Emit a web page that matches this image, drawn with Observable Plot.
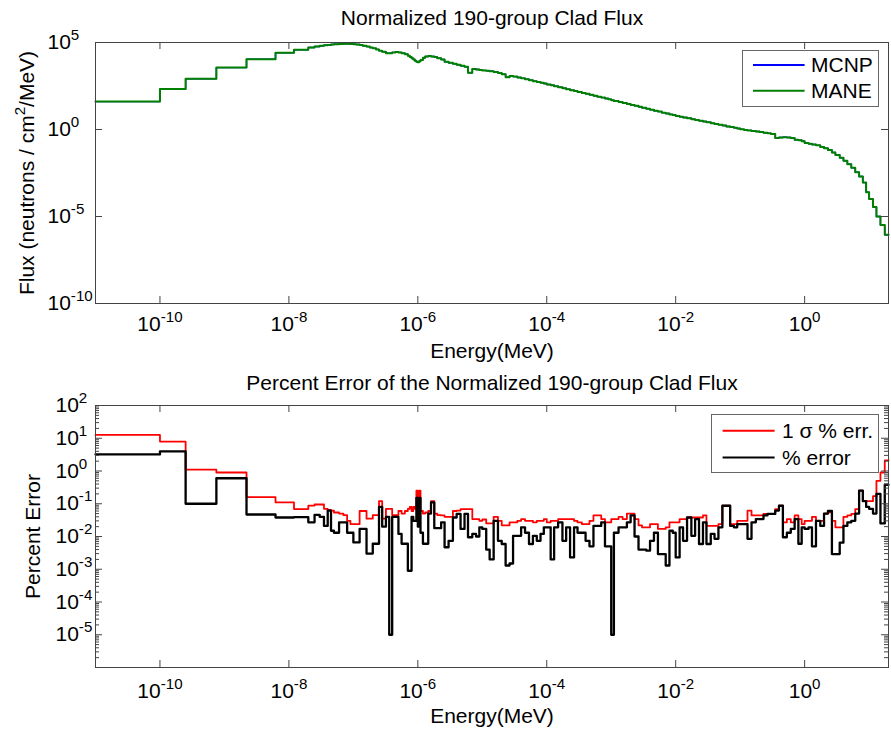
<!DOCTYPE html>
<html><head><meta charset="utf-8">
<script src="https://cdn.jsdelivr.net/npm/d3@7"></script>
<script src="https://cdn.jsdelivr.net/npm/@observablehq/plot@0.6"></script>
<style>
body{margin:0;background:#fff;}
#wrap{position:relative;width:891px;height:732px;font-family:"Liberation Sans",Arial,Helvetica,sans-serif;background:#fff;}
#wrap svg{display:block;}
.legend{position:absolute;box-sizing:border-box;border:1px solid #666;background:#fff;}
</style></head><body><div id="wrap"></div>
<script>
// Energy group boundaries (MeV): lower bound of each group, plus the final upper bound
const energyBounds = [
 1e-11, 1e-10, 2.5e-10, 7.5e-10, 2.2e-9, 6.2e-9,
 1.2e-8, 2e-8, 2.5e-8, 3e-8, 3.5e-8, 4e-8, 4.5e-8, 5e-8, 6e-8, 7e-8, 8e-8, 9e-8,
 1e-7, 1.1e-7, 1.25e-7, 1.4e-7, 1.6e-7, 1.8e-7, 2e-7, 2.25e-7, 2.5e-7, 2.8e-7, 3.2e-7, 3.6e-7, 4e-7, 4.5e-7, 5e-7, 5.6e-7, 6.3e-7, 7e-7, 7.5e-7, 8e-7, 8.5e-7, 9e-7, 9.5e-7,
 1e-6, 1.05e-6, 1.1e-6, 1.2e-6, 1.3e-6, 1.45e-6, 1.6e-6, 1.8e-6, 2e-6, 2.3e-6, 2.6e-6, 3e-6, 3.5e-6, 4e-6, 4.6e-6, 5.3e-6, 6e-6, 7e-6, 8e-6, 9e-6,
 1e-5, 1.15e-5, 1.3e-5, 1.5e-5, 1.75e-5, 2e-5, 2.3e-5, 2.65e-5, 3e-5, 3.5e-5, 4e-5, 4.6e-5, 5.3e-5, 6.1e-5, 7e-5, 8e-5, 9e-5,
 1e-4, 1.15e-4, 1.3e-4, 1.5e-4, 1.75e-4, 2e-4, 2.3e-4, 2.65e-4, 3e-4, 3.5e-4, 4e-4, 4.6e-4, 5.3e-4, 6.1e-4, 7e-4, 8e-4, 9e-4,
 1e-3, 1.1e-3, 1.3e-3, 1.5e-3, 1.75e-3, 2e-3, 2.3e-3, 2.65e-3, 3e-3, 3.5e-3, 4e-3, 4.6e-3, 5.3e-3, 6.1e-3, 7e-3, 8e-3, 9e-3,
 0.01, 0.0115, 0.013, 0.015, 0.0175, 0.02, 0.023, 0.0265, 0.03, 0.035, 0.04, 0.046, 0.053, 0.061, 0.07, 0.08, 0.09,
 0.1, 0.115, 0.13, 0.15, 0.175, 0.2, 0.23, 0.265, 0.3, 0.35, 0.4, 0.46, 0.53, 0.61, 0.7, 0.8, 0.9,
 1, 1.15, 1.3, 1.5, 1.75, 2, 2.3, 2.65, 3, 3.5, 4, 4.6, 5.3, 6.1, 7, 8, 9, 10, 11.5, 13, 15, 17.5,
 20
];

// Normalized group flux (neutrons / cm^2 / MeV)
const mcnpFlux = [
 40, 210, 830, 3600, 11000, 26000,
 38000, 52000, 59000, 65000, 69000, 72000, 76000, 79000, 83000, 85000, 85000, 83000,
 79000, 76000, 71000, 65000, 58000, 51000, 46000, 40000, 34000, 29000, 24000, 24000, 27000, 28000, 27000, 24000, 21000, 17400, 14800, 12300, 10500, 8900, 7800,
 7400, 8300, 10000, 13200, 15800, 16600, 15800, 14500, 12600, 10500, 7900, 6900, 6000, 5200, 4600, 4000, 1800, 3000, 2800, 2600,
 2500, 2400, 2240, 2000, 1740, 1510, 1000, 1200, 1100, 980, 870, 780, 680, 600, 540, 480, 440,
 389, 347, 309, 269, 234, 209, 182, 162, 145, 126, 112, 98, 87, 76, 68, 60, 54,
 48, 43, 38, 33, 29, 26, 23, 20, 17.8, 15.5, 13.8, 12.0, 10.7, 9.3, 8.3, 7.4, 6.8,
 5.9, 5.4, 4.9, 4.4, 3.9, 3.5, 3.2, 2.9, 2.6, 2.3, 2.1, 1.9, 1.7, 1.5, 1.38, 1.26, 1.15,
 1.02, 0.95, 0.89, 0.81, 0.76, 0.71, 0.65, 0.60, 0.56, 0.33, 0.35, 0.36, 0.35, 0.32, 0.26, 0.24, 0.21,
 0.166, 0.151, 0.138, 0.123, 0.100, 0.083, 0.066, 0.048, 0.034, 0.024, 0.0158, 0.0100, 0.0063, 0.00355, 0.0020, 0.00089, 0.00025, 0.0001, 3.5e-5, 1e-5, 3.2e-6, 8.9e-7
];
const maneFlux = [
 40, 210, 830, 3600, 11000, 26000,
 38000, 52000, 59000, 65000, 69000, 72000, 76000, 79000, 83000, 85000, 85000, 83000,
 79000, 76000, 71000, 65000, 58000, 51000, 46000, 40000, 34000, 29000, 24000, 24000, 27000, 28000, 27000, 24000, 21000, 17400, 14800, 12300, 10500, 8900, 7800,
 7400, 8300, 10000, 13200, 15800, 16600, 15800, 14500, 12600, 10500, 7900, 6900, 6000, 5200, 4600, 4000, 1800, 3000, 2800, 2600,
 2500, 2400, 2240, 2000, 1740, 1510, 1000, 1200, 1100, 980, 870, 780, 680, 600, 540, 480, 440,
 389, 347, 309, 269, 234, 209, 182, 162, 145, 126, 112, 98, 87, 76, 68, 60, 54,
 48, 43, 38, 33, 29, 26, 23, 20, 17.8, 15.5, 13.8, 12.0, 10.7, 9.3, 8.3, 7.4, 6.8,
 5.9, 5.4, 4.9, 4.4, 3.9, 3.5, 3.2, 2.9, 2.6, 2.3, 2.1, 1.9, 1.7, 1.5, 1.38, 1.26, 1.15,
 1.02, 0.95, 0.89, 0.81, 0.76, 0.71, 0.65, 0.60, 0.56, 0.33, 0.35, 0.36, 0.35, 0.32, 0.26, 0.24, 0.21,
 0.166, 0.151, 0.138, 0.123, 0.100, 0.083, 0.066, 0.048, 0.034, 0.024, 0.0158, 0.0100, 0.0063, 0.00355, 0.0020, 0.00089, 0.00025, 0.0001, 3.5e-5, 1e-5, 3.2e-6, 8.9e-7
];

// 1 sigma percent error (red)
const sigmaPctErr = [
 12.6, 7.9, 1.1, 0.9, 0.16, 0.11,
 0.069, 0.088, 0.095, 0.095, 0.07, 0.065, 0.062, 0.054, 0.05, 0.045, 0.03, 0.024,
 0.024, 0.024, 0.06, 0.06, 0.035, 0.035, 0.045, 0.045, 0.12, 0.035, 0.07, 0.07, 0.045, 0.045, 0.06, 0.05, 0.06, 0.07, 0.08, 0.06, 0.08, 0.07, 0.25,
 0.07, 0.25, 0.06, 0.05, 0.054, 0.06, 0.12, 0.05, 0.045, 0.044, 0.04, 0.04, 0.06, 0.062, 0.069, 0.069, 0.069, 0.034, 0.034, 0.03,
 0.033, 0.025, 0.025, 0.04, 0.03, 0.022, 0.022, 0.027, 0.027, 0.03, 0.034, 0.03, 0.03, 0.027, 0.03, 0.03, 0.034,
 0.027, 0.03, 0.03, 0.034, 0.034, 0.034, 0.034, 0.03, 0.027, 0.024, 0.024, 0.03, 0.044, 0.044, 0.034, 0.027, 0.027,
 0.034, 0.034, 0.04, 0.034, 0.05, 0.05, 0.034, 0.022, 0.019, 0.019, 0.024, 0.024, 0.017, 0.017, 0.019, 0.027, 0.027,
 0.027, 0.034, 0.034, 0.038, 0.038, 0.038, 0.038, 0.044, 0.021, 0.021, 0.021, 0.024, 0.087, 0.087, 0.024, 0.024, 0.03,
 0.03, 0.03, 0.062, 0.044, 0.044, 0.044, 0.049, 0.049, 0.049, 0.069, 0.087, 0.027, 0.034, 0.027, 0.044, 0.034, 0.024,
 0.03, 0.03, 0.04, 0.03, 0.03, 0.05, 0.055, 0.03, 0.019, 0.019, 0.04, 0.044, 0.049, 0.069, 0.25, 0.12, 0.12, 0.12, 0.17, 0.5, 0.9, 2.1
];

// % error MANE vs MCNP (black)
const pctError = [
 3.2, 4.0, 0.1, 0.6, 0.047, 0.038,
 0.039, 0.027, 0.046, 0.04, 0.021, 0.062, 0.015, 0.013, 0.027, 0.027, 0.013, 0.013,
 0.0066, 0.0066, 0.017, 0.017, 0.003, 0.003, 0.006, 0.006, 0.08, 0.02, 0.04, 1e-5, 0.04, 0.04, 0.012, 0.006, 0.006, 0.0009, 0.0009, 0.04, 0.03, 0.03, 0.15,
 0.02, 0.15, 0.013, 0.006, 0.006, 0.05, 0.11, 0.018, 0.018, 0.027, 0.0047, 0.0074, 0.038, 0.049, 0.017, 0.049, 0.0095, 0.012, 0.01, 0.019,
 0.017, 0.004, 0.002, 0.03, 0.0074, 0.0059, 0.0013, 0.0015, 0.0105, 0.0105, 0.019, 0.013, 0.0059, 0.0105, 0.0074, 0.012, 0.019,
 0.019, 0.002, 0.019, 0.027, 0.0074, 0.019, 0.0023, 0.019, 0.013, 0.013, 0.0074, 0.005, 0.021, 0.021, 0.027, 0.005, 0.005,
 1e-5, 0.013, 0.019, 0.019, 0.027, 0.044, 0.01, 0.004, 0.004, 0.0037, 0.0074, 0.013, 0.0029, 0.0029, 0.0013, 0.015, 0.013,
 0.0023, 0.019, 0.0074, 0.038, 0.0105, 0.034, 0.0059, 0.027, 0.0059, 0.012, 0.0085, 0.019, 0.087, 0.087, 0.021, 0.019, 0.024,
 0.024, 0.024, 0.0085, 0.027, 0.034, 0.034, 0.044, 0.049, 0.049, 0.062, 0.087, 0.0095, 0.013, 0.017, 0.034, 0.006, 0.019,
 0.017, 0.019, 0.005, 0.03, 0.021, 0.05, 0.06, 0.0029, 0.0029, 0.0065, 0.021, 0.027, 0.03, 0.05, 0.25, 0.12, 0.08, 0.07, 0.05, 0.2, 0.025, 0.38
];

const topSeries = ["MCNP", "MANE"];
const topColors = ["#0000ff", "#008000"];
const bottomSeries = ["1 \u03c3 % err.", "% error"];
const bottomColors = ["#ff0000", "#000000"];

const xTicks = [1e-10, 1e-8, 1e-6, 1e-4, 1e-2, 1];
const xTickLabels = ["10^{-10}", "10^{-8}", "10^{-6}", "10^{-4}", "10^{-2}", "10^{0}"];
const yTicksTop = [1e-10, 1e-5, 1, 1e5];
const yTickLabelsTop = ["10^{-10}", "10^{-5}", "10^{0}", "10^{5}"];
const yTicksBottom = [1e-5, 1e-4, 1e-3, 1e-2, 1e-1, 1, 10, 100];
const yTickLabelsBottom = ["10^{-5}", "10^{-4}", "10^{-3}", "10^{-2}", "10^{-1}", "10^{0}", "10^{1}", "10^{2}"];

const topTitle = "Normalized 190-group Clad Flux";
const bottomTitle = "Percent Error of the Normalized 190-group Clad Flux";
const xLabel = "Energy(MeV)";
const topYLabel = "Flux (neutrons / cm^{2}/MeV)";
const bottomYLabel = "Percent Error";

// ---------- rendering ----------
const W = 891, H = 366;
const FONT = '"Liberation Sans", Arial, Helvetica, sans-serif';
const AX = "#444";

const yMinorBottom = [];
for (let k = -6; k < 2; k++) for (let m = 2; m < 10; m++) yMinorBottom.push(m * Math.pow(10, k));

function steps(vals) {
  const pts = vals.map((v, i) => ({e: energyBounds[i], v}));
  pts.push({e: energyBounds[vals.length], v: vals[vals.length - 1]});
  return pts;
}

function supify(svg) {
  svg.querySelectorAll("text").forEach(t => {
    const s = t.textContent;
    if (!s.includes("^{")) return;
    const parts = s.split(/\^\{([^}]*)\}/);
    while (t.firstChild) t.removeChild(t.firstChild);
    parts.forEach((p, i) => {
      if (p === "") return;
      const ts = document.createElementNS("http://www.w3.org/2000/svg", "tspan");
      ts.textContent = p;
      if (i % 2 === 1) { ts.setAttribute("font-size", "72%"); ts.setAttribute("dy", "-0.6em"); }
      else if (i > 0) { ts.setAttribute("dy", "0.432em"); }
      t.appendChild(ts);
    });
  });
}

function panel(o) {
  const fw = W - o.ml - o.mr, fh = H - o.mt - o.mb;
  const marks = [
    ...o.lines,
    Plot.ruleX(xTicks, {x: d => d, insetTop: fh - 7, stroke: AX}),
    Plot.ruleX(xTicks, {x: d => d, insetBottom: fh - 7, stroke: AX}),
    Plot.ruleY(o.yTicks, {y: d => d, insetRight: fw - 7, stroke: AX}),
    Plot.ruleY(o.yTicks, {y: d => d, insetLeft: fw - 7, stroke: AX}),
  ];
  if (o.minor) {
    marks.push(Plot.ruleY(o.minor, {y: d => d, insetRight: fw - 4, stroke: AX}));
    marks.push(Plot.ruleY(o.minor, {y: d => d, insetLeft: fw - 4, stroke: AX}));
  }
  marks.push(
    Plot.frame({stroke: AX}),
    Plot.text(xTickLabels, {x: (d, i) => xTicks[i], text: d => d, frameAnchor: "bottom", textAnchor: "middle", lineAnchor: "top", dy: o.xtdy, fontSize: 21}),
    Plot.text(o.yLabels, {y: (d, i) => o.yTicks[i], text: d => d, frameAnchor: "left", dx: o.ytdx, textAnchor: "start", lineAnchor: "middle", fontSize: 21}),
    Plot.text([o.title], {text: d => d, frameAnchor: "top", textAnchor: "middle", lineAnchor: "middle", dy: o.tdy, fontSize: 21}),
    Plot.text([xLabel], {text: d => d, frameAnchor: "bottom", textAnchor: "middle", lineAnchor: "middle", dy: o.xldy, fontSize: 21}),
    Plot.text([o.ylabel], {text: d => d, frameAnchor: "left", textAnchor: "middle", lineAnchor: "middle", dx: o.yldx, rotate: -90, fontSize: 21})
  );
  const svg = Plot.plot({
    width: W, height: H, marginTop: o.mt, marginBottom: o.mb, marginLeft: o.ml, marginRight: o.mr,
    style: {fontFamily: FONT, fontSize: "21px", background: "white", color: "black", overflow: "visible"},
    x: {type: "log", domain: [1e-11, 20], axis: null},
    y: {type: "log", domain: o.ydomain, axis: null},
    marks
  });
  supify(svg);
  return svg;
}

const wrap = document.getElementById("wrap");

wrap.appendChild(panel({
  mt: 42, mb: 63, ml: 95, mr: 3,
  ydomain: [1e-10, 1e5], yTicks: yTicksTop, yLabels: yTickLabelsTop,
  title: topTitle, ylabel: topYLabel,
  xtdy: 13, ytdx: -48, tdy: -24.5, xldy: 47.5, yldx: -68,
  lines: [
    Plot.line(steps(mcnpFlux), {x: "e", y: "v", curve: "step-after", stroke: topColors[0], strokeWidth: 1.4}),
    Plot.line(steps(maneFlux), {x: "e", y: "v", curve: "step-after", stroke: topColors[1], strokeWidth: 2})
  ]
}));

wrap.appendChild(panel({
  mt: 39, mb: 65, ml: 95, mr: 3,
  ydomain: [1e-6, 1e2], yTicks: yTicksBottom, yLabels: yTickLabelsBottom, minor: yMinorBottom,
  title: bottomTitle, ylabel: bottomYLabel,
  xtdy: 16, ytdx: -40, tdy: -22.5, xldy: 48.5, yldx: -62,
  lines: [
    Plot.line(steps(sigmaPctErr), {x: "e", y: "v", curve: "step-after", stroke: bottomColors[0], strokeWidth: 1.8}),
    Plot.line(steps(pctError), {x: "e", y: "v", curve: "step-after", stroke: bottomColors[1], strokeWidth: 2.3})
  ]
}));

function legend(left, top, w, h, names, colors, rowY, x1, x2, tx) {
  const d = document.createElement("div");
  d.className = "legend";
  Object.assign(d.style, {left: left + "px", top: top + "px", width: w + "px", height: h + "px"});
  let s = `<svg width="${w - 2}" height="${h - 2}" style="display:block;font-family:${FONT.replace(/"/g, "'")};font-size:21px">`;
  names.forEach((n, i) => {
    s += `<line x1="${x1}" x2="${x2}" y1="${rowY[i]}" y2="${rowY[i]}" stroke="${colors[i]}" stroke-width="2"/>`;
    s += `<text x="${tx}" y="${rowY[i]}" dy="0.35em" fill="#000">${n}</text>`;
  });
  s += "</svg>";
  d.innerHTML = s;
  wrap.appendChild(d);
}
legend(741.7, 50, 137.6, 56.7, topSeries, topColors, [14, 39.7], 10, 61.6, 68);
legend(710.7, 414.3, 168.6, 58.4, bottomSeries, bottomColors, [15.7, 42.4], 10.6, 62.6, 70);
</script>
</body></html>
